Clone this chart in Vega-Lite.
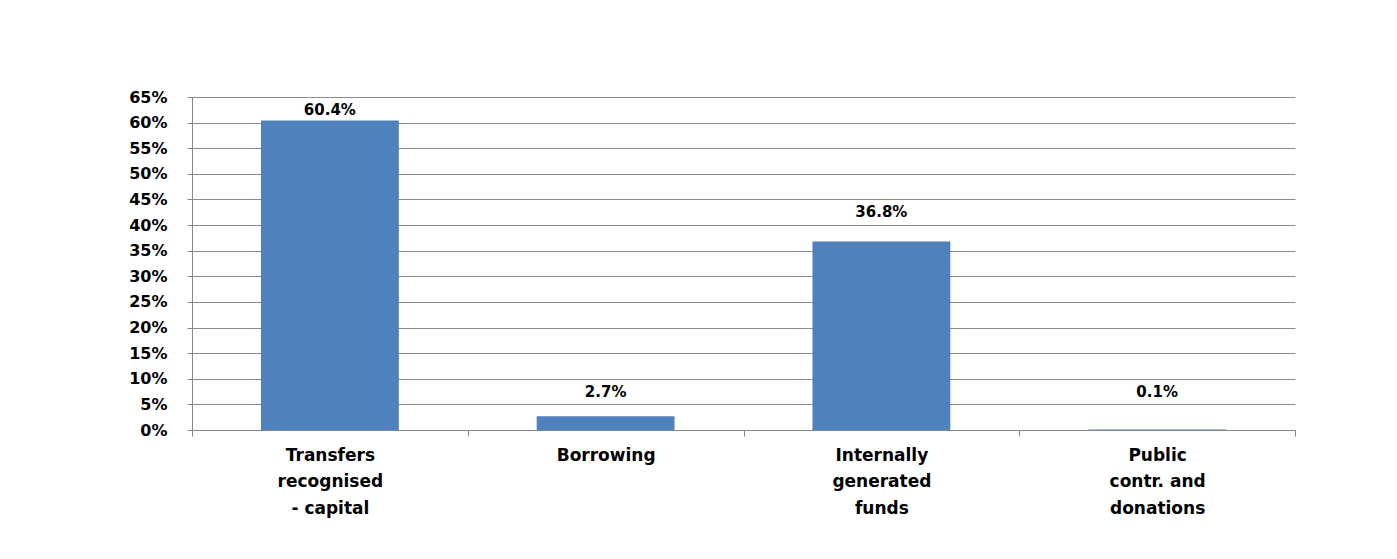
{
  "$schema": "https://vega.github.io/schema/vega-lite/v6.json",
  "autosize": {"type": "none"},
  "padding": {"left": 192, "top": 97, "right": 102, "bottom": 129},
  "width": 1103,
  "height": 333,
  "background": "white",
  "data": {
    "values": [
      {"source": "Transfers|recognised|- capital", "share": 0.604},
      {"source": "Borrowing", "share": 0.027},
      {"source": "Internally|generated|funds", "share": 0.368},
      {"source": "Public|contr. and|donations", "share": 0.001}
    ]
  },
  "encoding": {
    "x": {
      "field": "source",
      "type": "nominal",
      "sort": null,
      "scale": {"paddingInner": 0, "paddingOuter": 0},
      "axis": {
        "title": null,
        "labelAngle": 0,
        "labelExpr": "split(datum.label, '|')",
        "labelFont": "DejaVu Sans",
        "labelFontWeight": "bold",
        "labelFontSize": 17,
        "labelLineHeight": 26.5,
        "labelColor": "black",
        "labelPadding": 11,
        "tickBand": "extent",
        "tickSize": 6,
        "tickColor": "#868686",
        "domainColor": "#868686",
        "grid": false
      }
    },
    "y": {
      "field": "share",
      "type": "quantitative",
      "scale": {"domain": [0, 0.65], "nice": false},
      "axis": {
        "title": null,
        "format": ".0%",
        "values": [0, 0.05, 0.1, 0.15, 0.2, 0.25, 0.3, 0.35, 0.4, 0.45, 0.5, 0.55, 0.6, 0.65],
        "labelFont": "DejaVu Sans",
        "labelFontWeight": "bold",
        "labelFontSize": 16,
        "labelColor": "black",
        "labelPadding": 20,
        "tickSize": 5,
        "tickColor": "#868686",
        "domainColor": "#868686",
        "gridColor": "#8c8c8c",
        "gridWidth": 1
      }
    }
  },
  "layer": [
    {"mark": {"type": "bar", "color": "#4F81BD", "width": {"band": 0.5}}},
    {
      "transform": [{"calculate": "min(ceil(datum.share * 20) / 20 + 0.025, 0.625)", "as": "label_y"}],
      "mark": {"type": "text", "baseline": "middle", "font": "DejaVu Sans", "fontWeight": "bold", "fontSize": 15, "color": "black"},
      "encoding": {
        "y": {"field": "label_y", "type": "quantitative"},
        "text": {"field": "share", "type": "quantitative", "format": ".1%"}
      }
    }
  ],
  "config": {"view": {"stroke": null}}
}
